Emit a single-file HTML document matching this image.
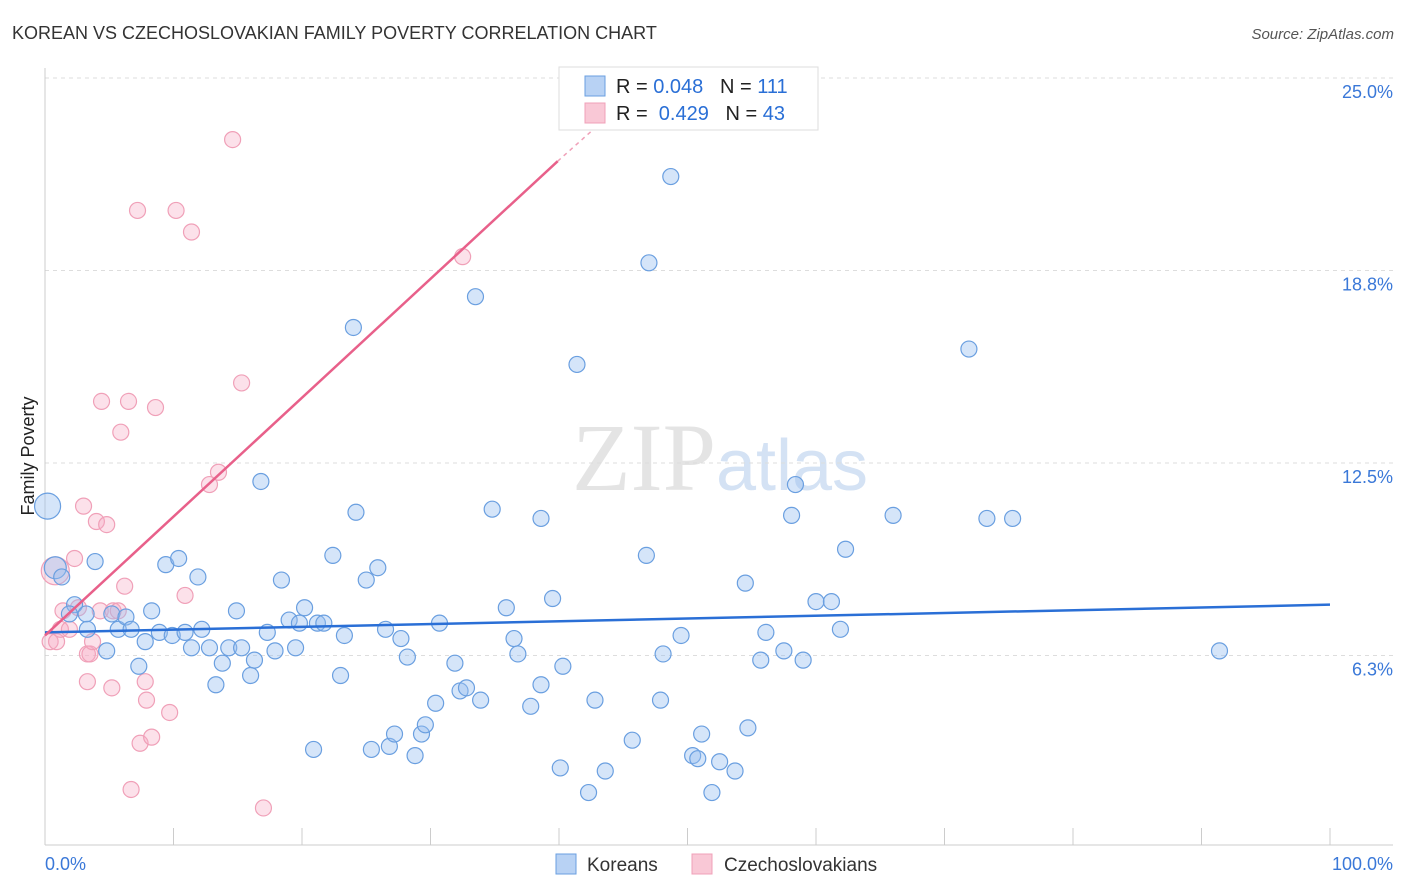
<!DOCTYPE html>
<html><head><meta charset="utf-8">
<style>
body{margin:0;background:#fff;font-family:"Liberation Sans",sans-serif;}
svg{display:block}
</style></head>
<body>
<svg id="chart" width="1406" height="892">
<text x="12" y="39" font-size="18" fill="#333">KOREAN VS CZECHOSLOVAKIAN FAMILY POVERTY CORRELATION CHART</text>
<text x="1394" y="39" font-size="15" fill="#555" font-style="italic" text-anchor="end">Source: ZipAtlas.com</text>
<text x="720" y="490" font-size="96" fill="#e4e4e4" text-anchor="middle" font-family="Liberation Serif,serif">ZIP<tspan fill="#d4e2f4" font-family="Liberation Sans,sans-serif" font-size="72">atlas</tspan></text>
<text transform="translate(34,456) rotate(-90)" font-size="18" fill="#222" text-anchor="middle">Family Poverty</text>
<g id="grid"></g>
<g id="axes"></g>
<g id="pts"></g>
<g id="trend"></g>
<g>
<rect x="559" y="67" width="259" height="63" fill="#fff" stroke="#ddd"/>
<rect x="585" y="76" width="20" height="20" fill="#b8d2f4" stroke="#6a9fe0"/>
<rect x="585" y="103" width="20" height="20" fill="#f9c8d6" stroke="#f0a0b8"/>
<text x="616" y="93" font-size="20" fill="#222">R = <tspan fill="#2a6fd6">0.048</tspan>&#160;&#160;&#160;N = <tspan fill="#2a6fd6">111</tspan></text>
<text x="616" y="120" font-size="20" fill="#222">R = &#160;<tspan fill="#2a6fd6">0.429</tspan>&#160;&#160;&#160;N = <tspan fill="#2a6fd6">43</tspan></text>
</g>
<g>
<rect x="556" y="854" width="20" height="20" fill="#b8d2f4" stroke="#6a9fe0"/>
<text x="587" y="871" font-size="19" fill="#333">Koreans</text>
<rect x="692" y="854" width="20" height="20" fill="#f9c8d6" stroke="#f0a0b8"/>
<text x="724" y="871" font-size="19" fill="#333">Czechoslovakians</text>
</g>
</svg>
<script>
const yTicks=[6.25,12.5,18.75,25];
const yTickLabels=["6.3%","12.5%","18.8%","25.0%"];
const xTickLabels=["0.0%","100.0%"];
const koreanX=[0.2,0.8,1.3,2.3,1.9,3.2,3.9,3.3,4.8,5.2,5.7,6.3,6.7,7.3,7.8,8.3,8.9,9.4,9.9,10.4,10.9,11.4,11.9,12.2,12.8,13.3,13.8,14.3,14.9,15.3,16.0,16.3,16.8,17.3,17.9,18.4,19.0,19.5,19.8,20.2,20.9,21.2,21.7,23.0,23.3,24.0,24.2,22.4,25.0,25.4,25.9,26.5,26.8,27.2,27.7,28.2,28.8,29.3,29.6,30.4,30.7,31.9,32.3,32.8,33.9,33.5,34.8,35.9,36.5,36.8,37.8,38.6,38.6,39.5,40.1,40.3,41.4,42.3,42.8,43.6,45.7,46.8,47.0,47.9,48.1,48.7,49.5,50.4,50.8,51.1,51.9,52.5,53.7,54.5,54.7,55.7,56.1,57.5,58.1,58.4,59.0,60.0,61.2,61.9,62.3,66.0,71.9,73.3,75.3,91.4];
const koreanY=[11.1,9.1,8.8,7.9,7.6,7.6,9.3,7.1,6.4,7.6,7.1,7.5,7.1,5.9,6.7,7.7,7.0,9.2,6.9,9.4,7.0,6.5,8.8,7.1,6.5,5.3,6.0,6.5,7.7,6.5,5.6,6.1,11.9,7.0,6.4,8.7,7.4,6.5,7.3,7.8,3.2,7.3,7.3,5.6,6.9,16.9,10.9,9.5,8.7,3.2,9.1,7.1,3.3,3.7,6.8,6.2,3.0,3.7,4.0,4.7,7.3,6.0,5.1,5.2,4.8,17.9,11.0,7.8,6.8,6.3,4.6,5.3,10.7,8.1,2.6,5.9,15.7,1.8,4.8,2.5,3.5,9.5,19.0,4.8,6.3,21.8,6.9,3.0,2.9,3.7,1.8,2.8,2.5,8.6,3.9,6.1,7.0,6.4,10.8,11.8,6.1,8.0,8.0,7.1,9.7,10.8,16.2,10.7,10.7,6.4];
const czechX=[0.8,0.4,0.9,1.2,1.4,1.9,2.3,2.6,3.0,3.3,3.3,3.5,3.7,4.0,4.3,4.4,4.8,5.2,5.3,5.7,6.2,6.5,5.9,7.2,7.4,7.8,7.9,8.3,6.7,8.6,9.7,10.2,10.9,11.4,12.8,13.5,14.6,15.3,17.0,32.5];
const czechY=[9.0,6.7,6.7,7.1,7.7,7.1,9.4,7.8,11.1,6.3,5.4,6.3,6.7,10.6,7.7,14.5,10.5,5.2,7.7,7.7,8.5,14.5,13.5,20.7,3.4,5.4,4.8,3.6,1.9,14.3,4.4,20.7,8.2,20.0,11.8,12.2,23.0,15.1,1.3,19.2];
const koreanTrend=[[0,7.0],[100,7.9]];
const czechTrend=[[0,6.9],[39.9,22.3]];
const czechTrendExt=[[39.9,22.3],[43.4,23.6]];

const NS="http://www.w3.org/2000/svg";
const X0=45,X1=1330,Y0=848,Y25=78;
const sx=v=>X0+v*(X1-X0)/100;
const sy=v=>Y0-v*(Y0-Y25)/25;
function mk(tag,attrs,parent){const e=document.createElementNS(NS,tag);for(const k in attrs)e.setAttribute(k,attrs[k]);parent.appendChild(e);return e;}
const grid=document.getElementById('grid'),axes=document.getElementById('axes'),pts=document.getElementById('pts'),tr=document.getElementById('trend');
yTicks.forEach((t,i)=>{
  const l=mk('line',{x1:45,x2:1393,y1:sy(t),y2:sy(t),stroke:'#ddd','stroke-dasharray':'4,4'},grid);
  
  
  const tx=mk('text',{x:1393,y:sy(t)+20,'font-size':18,fill:'#3a78d8','text-anchor':'end'},axes);
  tx.textContent=yTickLabels[i];
  
  
});
const ax=mk('line',{x1:45,x2:1393,y1:845,y2:845,stroke:'#ccc'},axes);


const ay=mk('line',{x1:45,x2:45,y1:68,y2:845,stroke:'#ccc'},axes);


for(let i=0;i<=10;i++){
  const t=mk('line',{x1:sx(i*10),x2:sx(i*10),y1:828,y2:845,stroke:'#ccc'},axes);
  
  
}
const xl0=mk('text',{x:45,y:870,'font-size':18,fill:'#3a78d8'},axes);xl0.textContent=xTickLabels[0];


const xl1=mk('text',{x:1393,y:870,'font-size':18,fill:'#3a78d8','text-anchor':'end'},axes);xl1.textContent=xTickLabels[1];



czechX.forEach((v,i)=>{
  const c=mk('circle',{cx:sx(v),cy:sy(czechY[i]),r:i===0?14:8,fill:'rgba(246,170,195,0.35)',stroke:'#f0a0b8','stroke-width':1.2},pts);
  
  
});
koreanX.forEach((v,i)=>{
  const c=mk('circle',{cx:sx(v),cy:sy(koreanY[i]),r:i===0?13:(i===1?11:8),fill:'rgba(150,190,240,0.4)',stroke:'#6a9fe0','stroke-width':1.2},pts);
  
  
});
const bt=mk('line',{x1:sx(koreanTrend[0][0]),y1:sy(koreanTrend[0][1]),x2:sx(koreanTrend[1][0]),y2:sy(koreanTrend[1][1]),stroke:'#2a6fd6','stroke-width':2.5},tr);


const pt=mk('line',{x1:sx(czechTrend[0][0]),y1:sy(czechTrend[0][1]),x2:sx(czechTrend[1][0]),y2:sy(czechTrend[1][1]),stroke:'#e8608a','stroke-width':2.5},tr);


const pe=mk('line',{x1:sx(czechTrendExt[0][0]),y1:sy(czechTrendExt[0][1]),x2:sx(czechTrendExt[1][0]),y2:sy(czechTrendExt[1][1]),stroke:'#f0a0b8','stroke-width':1.5,'stroke-dasharray':'4,4'},tr);


</script>
</body></html>
